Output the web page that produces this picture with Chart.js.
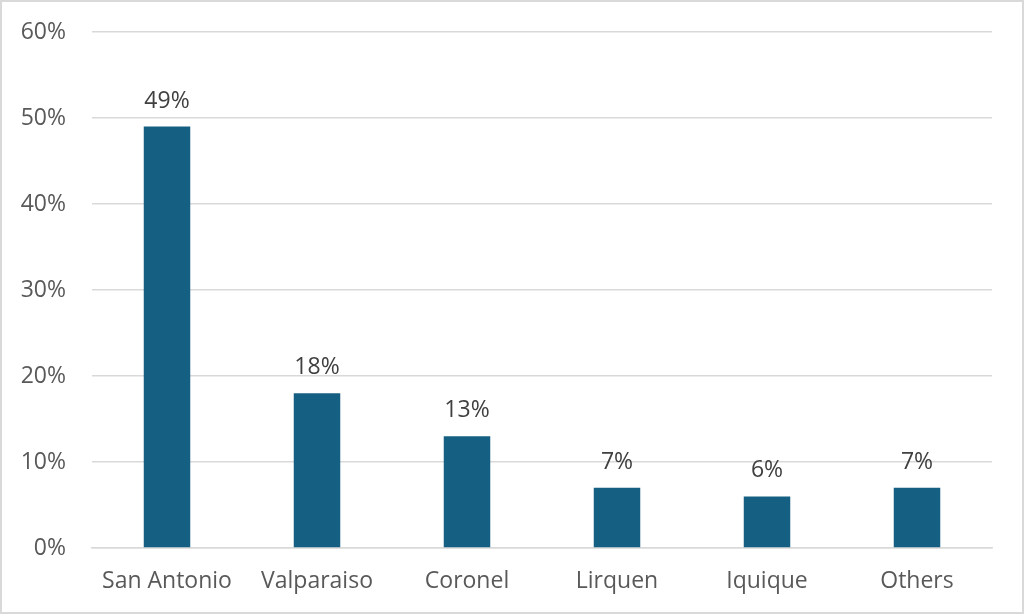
<!DOCTYPE html>
<html>
<head>
<meta charset="utf-8">
<script src="https://cdn.jsdelivr.net/npm/chart.js@4.4.1/dist/chart.umd.min.js"></script>
<style>
  html, body { margin: 0; padding: 0; background: #fff; }
  #wrap { position: relative; width: 1024px; height: 614px; }
  #portChart { display: block; }
  #frame { position: absolute; left: 0; top: 0; width: 1024px; height: 614px; box-sizing: border-box; border: 2px solid #d9d9d9; pointer-events: none; }
</style>
</head>
<body>
<div id="wrap">
  <canvas id="portChart" width="1024" height="614"></canvas>
  <div id="frame"></div>
</div>
<script>
const ports = ['San Antonio', 'Valparaiso', 'Coronel', 'Lirquen', 'Iquique', 'Others'];
const shares = [49, 18, 13, 7, 6, 7];
const yTicks = [0, 10, 20, 30, 40, 50, 60];

const labelFont = { family: '"Open Sans", sans-serif', size: 23 };

// draws the % value above each bar
const valueLabels = {
  id: 'valueLabels',
  afterDatasetsDraw(chart) {
    const ctx = chart.ctx;
    const meta = chart.getDatasetMeta(0);
    ctx.save();
    ctx.font = '23px "Open Sans", sans-serif';
    ctx.fillStyle = '#404040';
    ctx.textAlign = 'center';
    ctx.textBaseline = 'alphabetic';
    meta.data.forEach(function(bar, i) {
      ctx.fillText(shares[i] + '%', bar.x, bar.y - 19);
    });
    ctx.restore();
  }
};

new Chart(document.getElementById('portChart').getContext('2d'), {
  type: 'bar',
  data: {
    labels: ports,
    datasets: [{
      data: shares,
      backgroundColor: '#156082',
      borderWidth: 0,
      categoryPercentage: 1,
      barPercentage: 0.31
    }]
  },
  options: {
    responsive: false,
    animation: false,
    layout: { padding: { top: 32, right: 32, left: 0, bottom: 0 } },
    plugins: {
      legend: { display: false },
      tooltip: { enabled: false }
    },
    scales: {
      x: {
        grid: { display: false, drawTicks: false },
        border: { display: true, color: '#d9d9d9', width: 1.5 },
        ticks: { color: '#595959', font: labelFont, padding: 20, maxRotation: 0 },
        afterFit: function(s) { s.height = 66; s.paddingLeft = 0; s.paddingRight = 0; }
      },
      y: {
        min: 0,
        max: 60,
        afterBuildTicks: function(s) { s.ticks = yTicks.map(function(v) { return { value: v }; }); },
        grid: { color: '#d9d9d9', lineWidth: 1.5, drawTicks: false },
        border: { display: false },
        ticks: {
          color: '#595959',
          font: labelFont,
          padding: 26,
          callback: function(value) { return value + '%'; }
        },
        afterFit: function(s) { s.width = 92; s.paddingTop = 0; s.paddingBottom = 0; }
      }
    }
  },
  plugins: [valueLabels]
});
</script>
</body>
</html>
